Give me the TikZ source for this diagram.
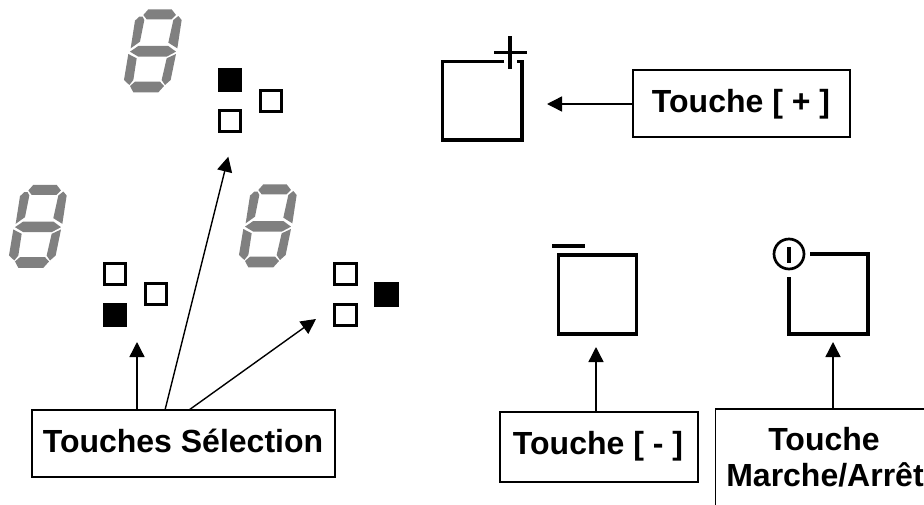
\documentclass[tikz,border=0pt]{standalone}
\usepackage{fontspec}
\setmainfont{Liberation Sans}
\usetikzlibrary{arrows.meta}
\newcommand{\lblfont}{\bfseries\fontsize{32}{36}\selectfont}
\tikzset{
 lbl/.style={draw=black,line width=1.4pt,fill=white,inner sep=0pt},
 lbltext/.style={font=\lblfont,inner sep=0pt,anchor=base},
 led/.style={draw=black,line width=3pt,fill=white,minimum size=21.5pt,inner sep=0pt},
 ledon/.style={led,fill=black},
 keyline/.style={line width=3.2pt,draw=black},
 arr/.style={line width=1.4pt,-{Triangle[length=15pt,width=15pt]}},
 seg/.style={fill=black!50,draw=none}
}
\newcommand{\digitseg}[2]{%
\begin{scope}[shift={(#1,#2)},x=0.3333pt,y=-0.3333pt]
\path[seg] (130,45)--(145,28)--(215,28)--(228,45)--(215,58)--(140,58)--cycle;
\path[seg] (128,50)--(133,60)--(120,125)--(92,145)--(105,62)--(118,50)--cycle;
\path[seg] (235,48)--(245,60)--(232,145)--(205,128)--(220,60)--cycle;
\path[seg] (90,155)--(115,138)--(205,138)--(228,155)--(200,170)--(115,170)--cycle;
\path[seg] (85,162)--(110,175)--(100,240)--(88,255)--(72,240)--cycle;
\path[seg] (228,162)--(212,240)--(195,255)--(185,240)--(200,175)--cycle;
\path[seg] (90,258)--(105,245)--(180,245)--(192,258)--(175,277)--(100,277)--cycle;
\end{scope}}
\begin{document}
\begin{tikzpicture}[x=1pt,y=-1pt]
\useasboundingbox (0,0) rectangle (924,504);
\clip (0,0) rectangle (924,504);
\fill[white] (0,0) rectangle (924,504);
\digitseg{100}{0}
\digitseg{-15}{175.5}
\digitseg{215}{175}
% LEDs
\node[ledon] (a1) at (230,80) {};
\node[led] (a2) at (230,121) {};
\node[led] (a3) at (271,101) {};
\node[led] (b1) at (115,274) {};
\node[ledon] (b2) at (115,315) {};
\node[led] (b3) at (156,294) {};
\node[led] (c1) at (345.5,274) {};
\node[led] (c2) at (345.5,315) {};
\node[ledon] (c3) at (386.7,294.5) {};
% plus key
\draw[keyline] (504,61.5) -- (442.5,61.5) -- (442.5,140) -- (522,140) -- (522,61.5) -- (517,61.5);
\draw[keyline] (494,52.7) -- (527,52.7);
\draw[keyline] (510,36) -- (510,69);
\coordinate (kp) at (547,104);
% minus key
\node[keyline,minimum width=78pt,minimum height=79pt,inner sep=0pt] (km) at (597.4,294.4) {};
\draw[keyline] (552,246) -- (585,246);
% on/off key
\draw[keyline] (810,254) -- (868,254) -- (868,334) -- (789,334) -- (789,277);
\node[circle,draw=black,line width=2.7pt,minimum size=30pt,inner sep=0pt] (ko) at (789,254) {};
\draw[keyline] (789,247) -- (789,263);
% labels
\node[lbl,minimum width=217pt,minimum height=67pt] (tp) at (741.5,103.5) {};
\node[lbltext] (tpt) at (741,112) {Touche [ + ]};
\node[lbl,minimum width=303pt,minimum height=67pt] (ts) at (183.5,443.5) {};
\node[lbltext] (tst) at (183,452) {Touches Sélection};
\node[lbl,minimum width=198pt,minimum height=70pt] (tm) at (599,447) {};
\node[lbltext] (tmt) at (598,454) {Touche [ - ]};
\node[lbl,minimum width=300pt,minimum height=130pt] (to) at (865.7,474) {};
\node[lbltext] (tot) at (824,450) {Touche};
\node[lbltext] (tom) at (825,486) {Marche/Arrêt};
% arrow targets
\coordinate (sa) at (137,342);
\coordinate (sb) at (228.3,156.7);
\coordinate (sc) at (316,319);
\coordinate (ma) at (596,347);
\coordinate (oa) at (833,342);
% connectors
\draw[arr] (tp.west |- kp) -- (kp);
\draw[arr] (sa |- ts.north) -- (sa);
\draw[arr] (165,410) -- (sb);
\draw[arr] (189,410) -- (sc);
\draw[arr] (ma |- tm.north) -- (ma);
\draw[arr] (oa |- to.north) -- (oa);
\end{tikzpicture}
\end{document}
